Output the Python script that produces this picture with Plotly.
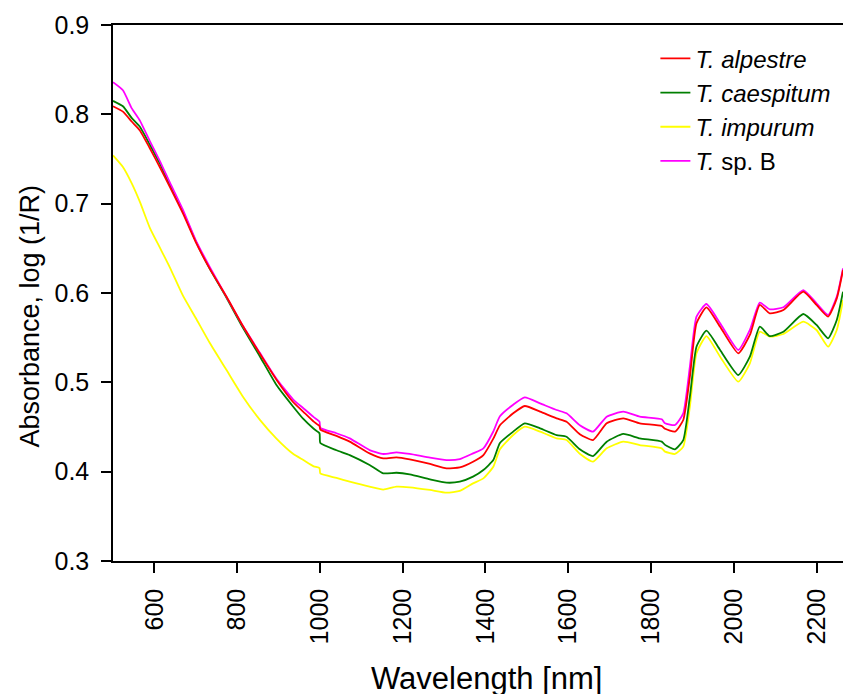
import plotly.graph_objects as go

# Wavelength grid (nm)
wavelength = [500, 524, 545, 565, 589, 613, 637, 669, 700, 734, 774, 814, 855, 895, 935, 960, 985, 999,
              1001, 1040, 1072, 1120, 1153, 1185, 1217, 1266, 1306, 1338, 1370, 1395, 1419, 1435, 1467,
              1495, 1532, 1572, 1596, 1628, 1660, 1693, 1733, 1773, 1826, 1834, 1858, 1878, 1894, 1910,
              1934, 1967, 2011, 2039, 2063, 2087, 2120, 2168, 2200, 2228, 2249, 2264]

# Mean absorbance spectra, log(1/R)
alpestre = [0.809, 0.803, 0.792, 0.782, 0.762, 0.741, 0.719, 0.689, 0.657, 0.627, 0.596, 0.563, 0.532, 0.503,
            0.478, 0.467, 0.456, 0.451, 0.447, 0.440, 0.4336, 0.4205, 0.4149, 0.4160, 0.4138, 0.4086, 0.4037,
            0.4048, 0.4111, 0.4186, 0.437, 0.452, 0.4653, 0.4735, 0.4672, 0.4597, 0.4559, 0.4420, 0.4354,
            0.4541, 0.4597, 0.4541, 0.4511, 0.4480, 0.4448, 0.4578, 0.5063, 0.5661, 0.5840, 0.5623, 0.5325,
            0.5530, 0.5866, 0.5772, 0.5810, 0.6015, 0.5866, 0.5735, 0.5940, 0.6257]

caespitum = [0.815, 0.809, 0.796, 0.786, 0.766, 0.745, 0.721, 0.691, 0.658, 0.627, 0.595, 0.561, 0.529, 0.497,
             0.473, 0.459, 0.448, 0.443, 0.432, 0.424, 0.4186, 0.4075, 0.3981, 0.3988, 0.3970, 0.3914, 0.3877,
             0.3888, 0.3944, 0.4018, 0.4130, 0.432, 0.4448, 0.4541, 0.4485, 0.4410, 0.4391, 0.4250, 0.4175,
             0.4336, 0.4422, 0.4373, 0.4336, 0.4300, 0.4250, 0.4354, 0.4839, 0.5399, 0.5578, 0.5362, 0.5082,
             0.5287, 0.5623, 0.5518, 0.5567, 0.5765, 0.5642, 0.5493, 0.5698, 0.6015]

impurum = [0.754, 0.741, 0.723, 0.702, 0.673, 0.651, 0.629, 0.597, 0.572, 0.544, 0.514, 0.484, 0.458, 0.437,
           0.420, 0.413, 0.406, 0.404, 0.398, 0.393, 0.3888, 0.3832, 0.3800, 0.3832, 0.3825, 0.3795, 0.3765,
           0.3784, 0.3869, 0.3925, 0.4055, 0.425, 0.4410, 0.4503, 0.4448, 0.4373, 0.4354, 0.4200, 0.4112,
           0.4261, 0.4336, 0.4298, 0.4261, 0.4224, 0.4198, 0.4280, 0.4727, 0.5325, 0.5518, 0.5287, 0.5007,
           0.5213, 0.5567, 0.5511, 0.5541, 0.5679, 0.5586, 0.5399, 0.5586, 0.5922]

sp_b = [0.836, 0.827, 0.807, 0.793, 0.770, 0.748, 0.724, 0.693, 0.659, 0.629, 0.596, 0.563, 0.533, 0.504,
        0.481, 0.471, 0.461, 0.456, 0.449, 0.443, 0.4373, 0.4242, 0.4198, 0.4216, 0.4198, 0.4156, 0.4130,
        0.4141, 0.4205, 0.4261, 0.445, 0.462, 0.4750, 0.4832, 0.4765, 0.4690, 0.4653, 0.4520, 0.4448,
        0.4616, 0.4672, 0.4616, 0.4586, 0.4541, 0.4522, 0.4653, 0.5175, 0.5735, 0.5877, 0.5661, 0.5362,
        0.5586, 0.5892, 0.5817, 0.5840, 0.6033, 0.5885, 0.5754, 0.5959, 0.6276]

x_ticks = [600, 800, 1000, 1200, 1400, 1600, 1800, 2000, 2200]
y_ticks = [0.3, 0.4, 0.5, 0.6, 0.7, 0.8, 0.9]

FONT = "Liberation Sans, Arial, Helvetica, sans-serif"

# (name, values, colour, legend rank) -- added in drawing order
series = [
    ("<i>T. impurum</i>", impurum, "#ffff00", 3),
    ("<i>T. caespitum</i>", caespitum, "#007f00", 2),
    ("<i>T.</i> sp. B", sp_b, "#ff00ff", 4),
    ("<i>T. alpestre</i>", alpestre, "#ff0000", 1),
]

fig = go.Figure()
for name, values, colour, rank in series:
    fig.add_trace(go.Scatter(x=wavelength, y=values, mode="lines", name=name, legendrank=rank,
                             line=dict(color=colour, width=1.8, shape="spline", smoothing=0.5)))

axis_style = dict(showline=True, linecolor="black", linewidth=1.5, ticks="outside", ticklen=10,
                  tickwidth=1.5, tickcolor="black", showgrid=False, zeroline=False, automargin=False,
                  tickfont=dict(family=FONT, size=25, color="black"))

fig.update_xaxes(range=[500, 2264], tickvals=x_ticks, tickangle=-90, mirror=True,
                 ticklabelstandoff=6, **axis_style)
fig.update_yaxes(range=[0.3, 0.9], tickvals=y_ticks, tickformat=".1f", ticklabelstandoff=7,
                 **axis_style)

# axis titles as annotations so they sit where the reference puts them
fig.add_annotation(text="Wavelength [nm]", xref="paper", yref="paper", x=0.512, y=0,
                   yshift=-117, xanchor="center", yanchor="middle", showarrow=False,
                   font=dict(family=FONT, size=31, color="black"))
fig.add_annotation(text="Absorbance, log (1/R)", xref="paper", yref="paper", x=0, y=0.456,
                   xshift=-83, xanchor="center", yanchor="middle", textangle=-90, showarrow=False,
                   font=dict(family=FONT, size=27, color="black"))

fig.update_layout(
    width=844, height=694,
    margin=dict(l=113, r=1, t=25, b=133),
    plot_bgcolor="white", paper_bgcolor="white",
    font=dict(family=FONT, color="black"),
    legend=dict(x=0.743, y=0.979, xanchor="left", yanchor="top", bgcolor="rgba(0,0,0,0)",
                font=dict(family=FONT, size=24, color="black"), tracegroupgap=0),
)

# drop the page's default body margin so the figure sits at the window's corner
fig.write_html("out.html", config={"displayModeBar": False},
               post_script="document.body.style.margin='0px';")
